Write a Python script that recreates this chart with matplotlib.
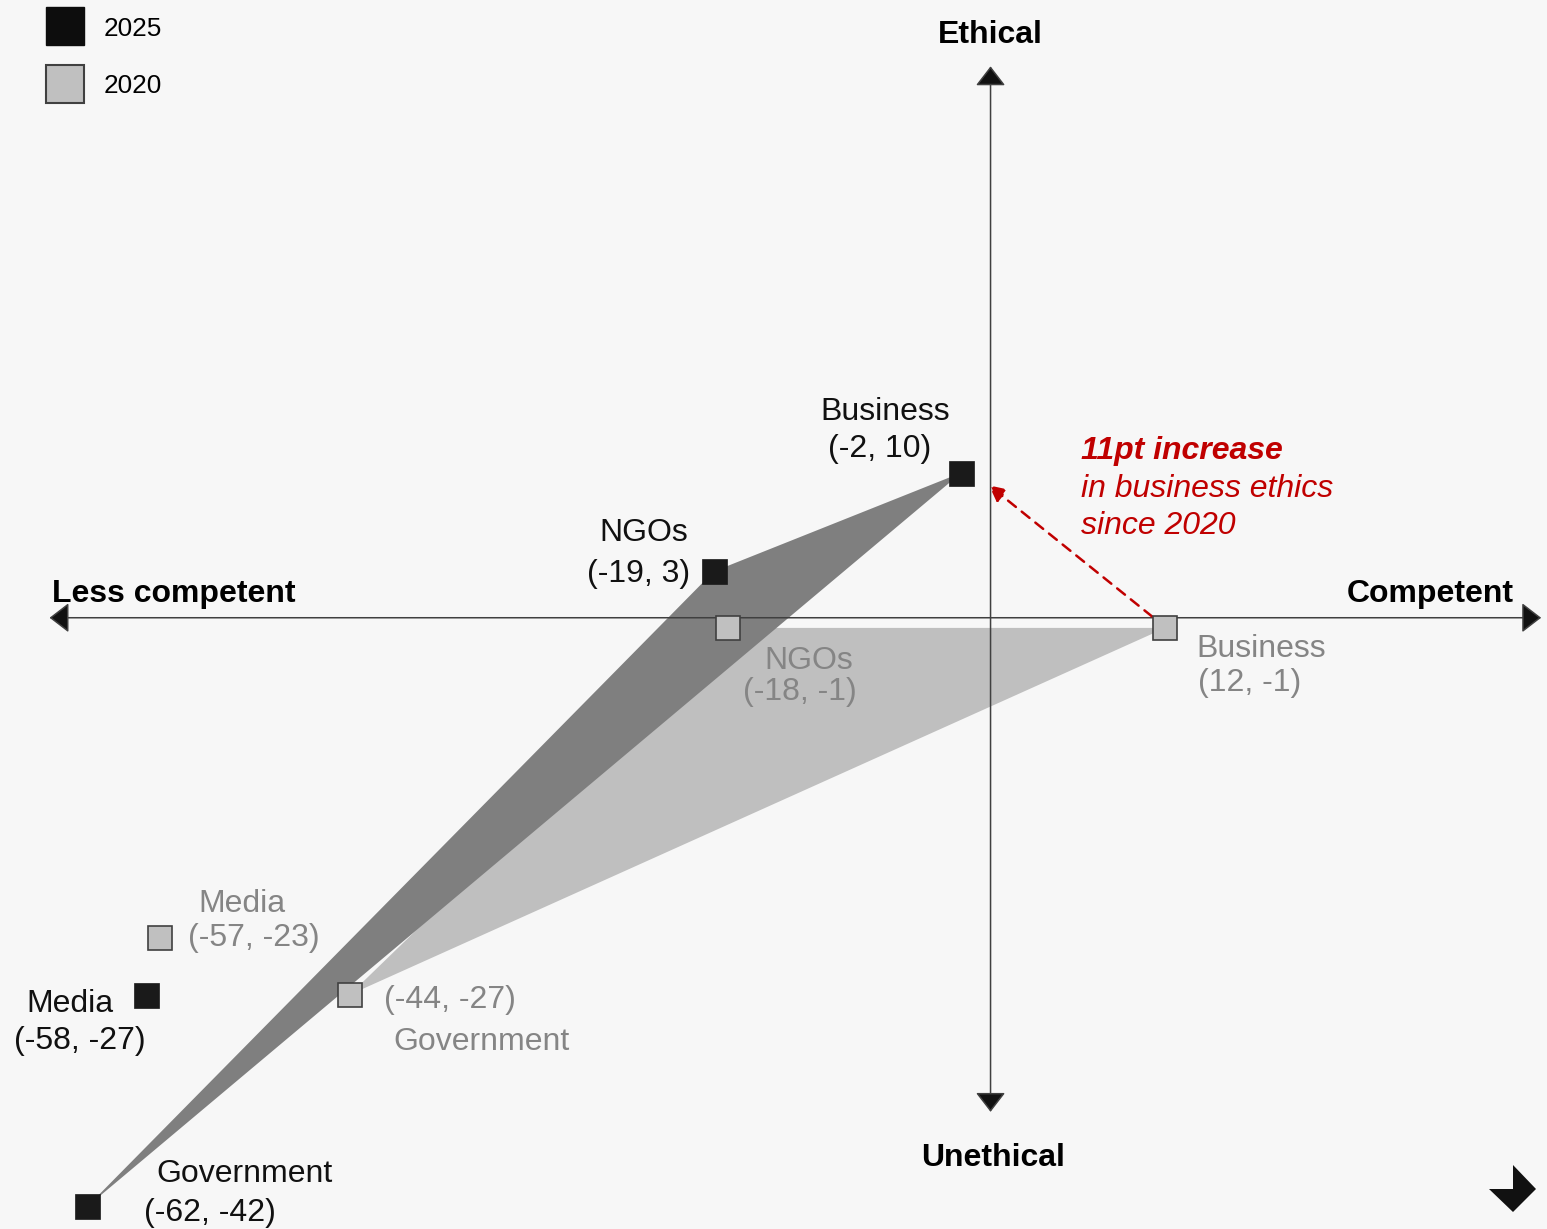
"""Ethical vs competent perception map: 2020 vs 2025 positions of four institutions."""

import matplotlib.pyplot as plt
from matplotlib.lines import Line2D
from matplotlib.patches import Polygon

plt.rcParams["font.family"] = ["Liberation Sans", "DejaVu Sans"]

# data (competence, ethics)
entities = ["Business", "NGOs", "Media", "Government"]
competence_2025 = [-2, -19, -58, -62]
ethics_2025 = [10, 3, -27, -42]
competence_2020 = [12, -18, -57, -44]
ethics_2020 = [-1, -1, -23, -27]
triangle_members = ["Business", "NGOs", "Government"]

# label offsets in pixels (name, coords) relative to each marker
offsets_2025 = {
    "Business": ((-76, 61), (-82, 24)),
    "NGOs": ((-70, 38), (-75, -3)),
    "Media": ((-76, -9), (-66, -46)),
    "Government": ((157, 32), (123, -7)),
}
offsets_2020 = {
    "Business": ((96, -21), (84, -55)),
    "NGOs": ((80, -33), (72, -64)),
    "Media": ((82, 34), (94, 0)),
    "Government": ((132, -47), (100, -5)),
}

BG = "#f7f7f7"
DARK = "#1a1a1a"
LIGHT = "#c0c0c0"
GREY_TEXT = "#858585"
RED = "#c00000"
FS = 23

fig = plt.figure(figsize=(15.47, 12.29), dpi=100, facecolor=BG)
ax = fig.add_axes([0, 0, 1, 1])
ax.set_facecolor(BG)
ax.set_xlim(-68.0, 38.2)
ax.set_ylim(-43.6, 43.5)
ax.axis("off")


def triangle(xs, ys):
    idx = [entities.index(n) for n in triangle_members]
    return [(xs[i], ys[i]) for i in idx]


ax.add_patch(Polygon(triangle(competence_2020, ethics_2020), closed=True,
                     facecolor="#bfbfbf", edgecolor="none", zorder=1))
ax.add_patch(Polygon(triangle(competence_2025, ethics_2025), closed=True,
                     facecolor="#7f7f7f", edgecolor="none", zorder=2))

# axes with arrow heads
axis_y = -0.28
axis_style = dict(arrowstyle="<|-|>,head_length=0.61,head_width=0.47",
                  mutation_scale=20, color="#1a1a1a", lw=1.1,
                  shrinkA=0, shrinkB=0)
ax.annotate("", xy=(37.8, axis_y), xytext=(-64.6, axis_y),
            arrowprops=dict(**axis_style), zorder=3)
ax.annotate("", xy=(0, 38.8), xytext=(0, -35.3),
            arrowprops=dict(**axis_style), zorder=3)
for a in ax.texts:
    a.arrow_patch.set_edgecolor("#404040")
    a.arrow_patch.set_facecolor("#111111")

ax.text(0, 41.0, "Ethical", ha="center", va="center", fontsize=FS, fontweight="bold")
ax.text(0.2, -38.6, "Unethical", ha="center", va="center", fontsize=FS, fontweight="bold")
ax.text(-64.4, 1.4, "Less competent", ha="left", va="center", fontsize=FS, fontweight="bold")
ax.text(35.9, 1.4, "Competent", ha="right", va="center", fontsize=FS, fontweight="bold")

# change arrow for business
b = entities.index("Business")
ax.annotate("", xy=(-0.1, 9.1), xytext=(11.1, -0.2),
            arrowprops=dict(arrowstyle="-|>,head_length=0.6,head_width=0.3",
                            mutation_scale=16, color=RED, lw=1.8,
                            linestyle=(0, (4, 3)), shrinkA=0, shrinkB=0),
            zorder=3)
ax.text(6.2, 11.55, f"{ethics_2025[b] - ethics_2020[b]}pt increase", color=RED,
        fontsize=FS, fontweight="bold", fontstyle="italic", ha="left", va="center")
ax.text(6.2, 7.55, "in business ethics\nsince 2020", color=RED, fontsize=FS,
        fontstyle="italic", ha="left", va="center", linespacing=1.3)

# markers
ax.plot(competence_2020, ethics_2020, "s", ms=17.5, mfc=LIGHT, mec="#404040",
        mew=1.2, ls="none", zorder=4)
ax.plot(competence_2025, ethics_2025, "s", ms=18, mfc=DARK, mec=DARK,
        mew=0.5, ls="none", zorder=4)

# labels
for i, name in enumerate(entities):
    (n_off, c_off) = offsets_2025[name]
    pt = (competence_2025[i], ethics_2025[i])
    ax.annotate(name, pt, xytext=n_off, textcoords="offset pixels",
                ha="center", va="center", fontsize=FS, color="#111111")
    ax.annotate(f"({competence_2025[i]}, {ethics_2025[i]})", pt, xytext=c_off,
                textcoords="offset pixels", ha="center", va="center",
                fontsize=FS, color="#111111")
    (n_off, c_off) = offsets_2020[name]
    pt = (competence_2020[i], ethics_2020[i])
    ax.annotate(name, pt, xytext=n_off, textcoords="offset pixels",
                ha="center", va="center", fontsize=FS, color=GREY_TEXT)
    ax.annotate(f"({competence_2020[i]}, {ethics_2020[i]})", pt, xytext=c_off,
                textcoords="offset pixels", ha="center", va="center",
                fontsize=FS, color=GREY_TEXT)

# legend
handles = [
    Line2D([], [], marker="s", ls="none", ms=27, mfc="#0d0d0d", mec="#0d0d0d"),
    Line2D([], [], marker="s", ls="none", ms=27, mfc=LIGHT, mec="#404040", mew=1.5),
]
ax.legend(handles, ["2025", "2020"], loc="upper left", bbox_to_anchor=(0.025, 0.995),
          frameon=False, fontsize=18.8, labelspacing=1.27, handlelength=1.2,
          handletextpad=0.9, borderaxespad=0)

# corner icon (figure pixel coordinates)
W, H = 1547, 1229
icon = [(1513, 1165), (1536, 1189), (1513, 1212), (1489, 1189), (1513, 1189)]
fig.patches.append(Polygon([(x / W, 1 - y / H) for x, y in icon], closed=True,
                           transform=fig.transFigure, facecolor="#111111",
                           edgecolor="none"))

fig.savefig("out.png", dpi=100, facecolor=BG)
